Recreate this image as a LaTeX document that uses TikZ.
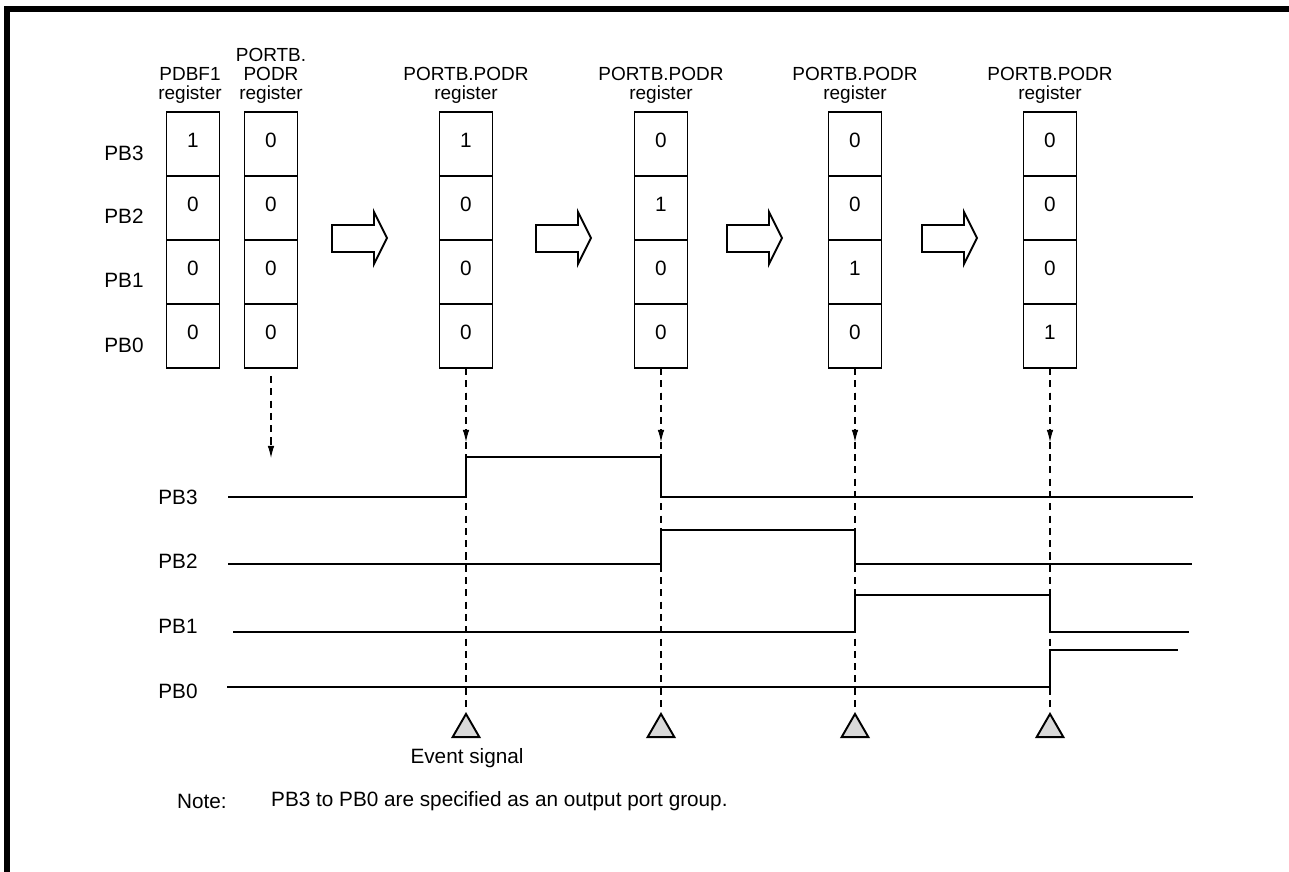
\documentclass[tikz,border=0pt]{standalone}
\usepackage{fontspec}
\setmainfont{Liberation Sans}
\usetikzlibrary{arrows.meta,shapes.geometric}

\begin{document}
\begin{tikzpicture}[
  x=0.02cm, y=-0.02cm,
  every node/.style={align=center, font=\fontsize{11.8}{13}\selectfont},
  cell/.style={draw, line width=1.1pt, inner sep=0, outer sep=0,
               minimum width=1.06cm, minimum height=1.28cm,
               text height=0.26cm, text depth=0.14cm},
  head/.style={anchor=south, inner sep=0, font=\fontsize{10.8}{10.8}\selectfont},
  wave/.style={line width=1.1pt},
  barrow/.style={line width=1.1pt, line join=miter},
  dline/.style={dashed, line width=0.6pt, dash pattern=on 4pt off 3pt},
  darr/.style={dline, -{Latex[length=0.24cm, width=0.13cm]}},
  event/.style={draw, line width=1.1pt, fill=black!15, regular polygon,
                regular polygon sides=3, minimum size=0.62cm, inner sep=0,
                anchor=north}
]
  \useasboundingbox (0,0) rectangle (1289,872);
  \draw[line width=3pt] (7,872) -- (7,9) -- (1289,9);

  % register headers
  \node[head] (hpdbf) at (190,104) {PDBF1\\register};
  \node[head] (hpodr) at (271,104) {PORTB.\\PODR\\register};
  \node[head] (hs1) at (466,104) {PORTB.PODR\\register};
  \node[head] (hs2) at (661,104) {PORTB.PODR\\register};
  \node[head] (hs3) at (855,104) {PORTB.PODR\\register};
  \node[head] (hs4) at (1050,104) {PORTB.PODR\\register};

  % bit labels
  \node (r3) at (124,153) {PB3};
  \node (r2) at (124,216) {PB2};
  \node (r1) at (124,280) {PB1};
  \node (r0) at (124,345) {PB0};

  % register cells
  \node[cell] (pdbf3) at (193,144) {1};
  \node[cell] (pdbf2) at (193,208) {0};
  \node[cell] (pdbf1) at (193,272) {0};
  \node[cell] (pdbf0) at (193,336) {0};

  \node[cell] (podr3) at (271,144) {0};
  \node[cell] (podr2) at (271,208) {0};
  \node[cell] (podr1) at (271,272) {0};
  \node[cell] (podr0) at (271,336) {0};

  \node[cell] (s1b3) at (466,144) {1};
  \node[cell] (s1b2) at (466,208) {0};
  \node[cell] (s1b1) at (466,272) {0};
  \node[cell] (s1b0) at (466,336) {0};

  \node[cell] (s2b3) at (661,144) {0};
  \node[cell] (s2b2) at (661,208) {1};
  \node[cell] (s2b1) at (661,272) {0};
  \node[cell] (s2b0) at (661,336) {0};

  \node[cell] (s3b3) at (855,144) {0};
  \node[cell] (s3b2) at (855,208) {0};
  \node[cell] (s3b1) at (855,272) {1};
  \node[cell] (s3b0) at (855,336) {0};

  \node[cell] (s4b3) at (1050,144) {0};
  \node[cell] (s4b2) at (1050,208) {0};
  \node[cell] (s4b1) at (1050,272) {0};
  \node[cell] (s4b0) at (1050,336) {1};

  % transition arrows
  \draw[barrow] (332,225) -- ++(42,0) -- ++(0,-13) -- ++(13,26) -- ++(-13,26) -- ++(0,-12) -- ++(-42,0) -- cycle;
  \draw[barrow] (536,225) -- ++(42,0) -- ++(0,-13) -- ++(13,26) -- ++(-13,26) -- ++(0,-12) -- ++(-42,0) -- cycle;
  \draw[barrow] (727,225) -- ++(42,0) -- ++(0,-13) -- ++(13,26) -- ++(-13,26) -- ++(0,-12) -- ++(-42,0) -- cycle;
  \draw[barrow] (922,225) -- ++(42,0) -- ++(0,-13) -- ++(13,26) -- ++(-13,26) -- ++(0,-12) -- ++(-42,0) -- cycle;

  % output waveforms
  \node (w3) at (178,497) {PB3};
  \node (w2) at (178,561) {PB2};
  \node (w1) at (178,626) {PB1};
  \node (w0) at (178,691) {PB0};
  \draw[wave] (228,497) -- (466,497) -- (466,457) -- (661,457) -- (661,497) -- (1193,497);
  \draw[wave] (228,564) -- (661,564) -- (661,530) -- (855,530) -- (855,564) -- (1192,564);
  \draw[wave] (233,632) -- (855,632) -- (855,595) -- (1050,595) -- (1050,632) -- (1189,632);
  \draw[wave] (227,687) -- (1050,687) -- (1050,650) -- (1178,650);

  % event signals
  \node[event] (ev1) at (466,712) {};
  \node[event] (ev2) at (661,712) {};
  \node[event] (ev3) at (855,712) {};
  \node[event] (ev4) at (1050,712) {};
  \node (evtext) at (467,758) {Event signal};

  \draw[darr, shorten <=8*0.02cm] (podr0.south) -- ++(0,90);
  \draw[dline] (s1b0.south) -- (ev1.north);
  \draw[dline] (s2b0.south) -- (ev2.north);
  \draw[dline] (s3b0.south) -- (ev3.north);
  \draw[dline] (s4b0.south) -- (ev4.north);
  \draw[darr] (s1b0.south) -- ++(0,74);
  \draw[darr] (s2b0.south) -- ++(0,74);
  \draw[darr] (s3b0.south) -- ++(0,74);
  \draw[darr] (s4b0.south) -- ++(0,74);

  \node[anchor=west] (note) at (171,801) {Note:};
  \node[anchor=west] (notetext) at (265,801) {PB3 to PB0 are specified as an output port group.};
\end{tikzpicture}
\end{document}
